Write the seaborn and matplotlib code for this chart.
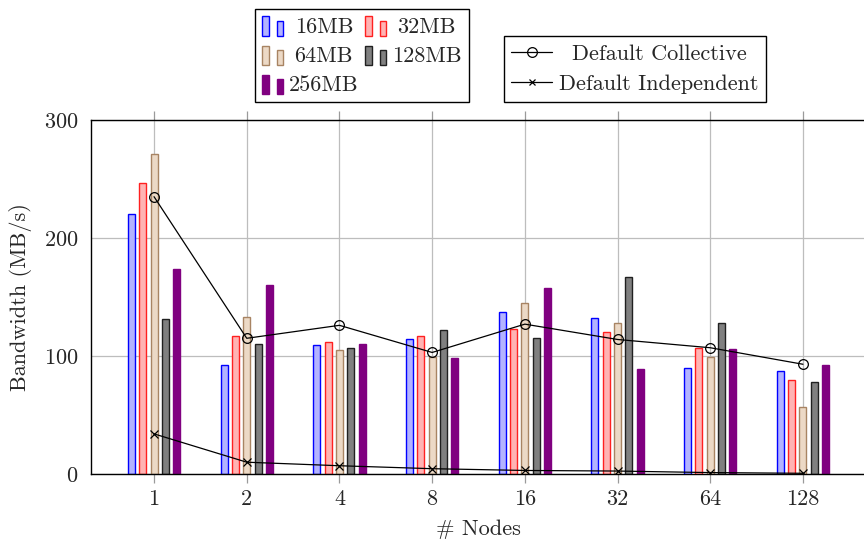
import matplotlib
matplotlib.use("Agg")
import matplotlib.pyplot as plt
import matplotlib.patches as mpatches
from matplotlib.lines import Line2D
from matplotlib.legend_handler import HandlerBase
import pandas as pd
import seaborn as sns

# Bandwidth (MB/s) per node count and transfer size
nodes = ["1", "2", "4", "8", "16", "32", "64", "128"]
sizes = ["16MB", "32MB", "64MB", "128MB", "256MB"]
bw_16mb = [220, 92, 109, 114, 137, 132, 90, 87]
bw_32mb = [247, 117, 112, 117, 123, 120, 107, 80]
bw_64mb = [271, 133, 105, 99, 145, 128, 99, 57]
bw_128mb = [131, 110, 107, 122, 115, 167, 128, 78]
bw_256mb = [174, 160, 110, 98, 158, 89, 106, 92]
default_collective = [235, 115, 126, 103, 127, 114, 107, 93]
default_independent = [34, 10, 7, 4.5, 3, 2.5, 1.2, 0.6]

fills = ["#b3b3ff", "#ffb3b3", "#ecd9c6", "#808080", "#800080"]
edges = ["#0000ff", "#ff2020", "#a88463", "#202020", "#800080"]

FS = 16

sns.set_theme(style="white")
plt.rcParams.update({
    "font.family": ["cmr10", "DejaVu Serif"],
    "mathtext.fontset": "cm",
    "axes.formatter.use_mathtext": True,
    "font.size": FS,
})

rows = []
for size, vals in zip(sizes, [bw_16mb, bw_32mb, bw_64mb, bw_128mb, bw_256mb]):
    for n, v in zip(nodes, vals):
        rows.append({"nodes": n, "size": size, "bw": v})
df = pd.DataFrame(rows)

fig = plt.figure(figsize=(8.64, 5.42), dpi=100)
ax = fig.add_axes([91 / 864, 1 - 474 / 542, 775 / 864, 354 / 542])

sns.barplot(data=df, x="nodes", y="bw", hue="size", order=nodes,
            hue_order=sizes, width=0.61, gap=0.38, errorbar=None,
            palette=fills, legend=False, ax=ax, linewidth=1.0)
for cont, fc, ec in zip(ax.containers, fills, edges):
    for bar in cont:
        bar.set_facecolor(fc)
        bar.set_edgecolor(ec)
        bar.set_linewidth(1.0)

sns.pointplot(x=nodes, y=default_collective, order=nodes, color="black",
              marker="o", markersize=7, markerfacecolor="none",
              markeredgewidth=0.9, linewidth=0.9, errorbar=None, ax=ax)
sns.pointplot(x=nodes, y=default_independent, order=nodes, color="black",
              marker="x", markersize=6, markeredgewidth=0.9,
              linewidth=0.9, errorbar=None, ax=ax)

ax.set_xlim(-0.68, 7.68)
ax.set_ylim(0, 300)
ax.set_yticks([0, 100, 200, 300])
ax.set_axisbelow(True)
ax.grid(True, color="#bdbdbd", linewidth=0.9)
ax.tick_params(axis="x", direction="out", length=6.5, width=0.9,
               color="#9a9a9a", top=True, bottom=True, labeltop=False,
               pad=5, labelsize=FS)
ax.tick_params(axis="y", length=0, pad=9, labelsize=FS)
for side in ["top", "left", "bottom"]:
    ax.spines[side].set_color("black")
    ax.spines[side].set_linewidth(1.0)
ax.spines["right"].set_visible(False)
ax.set_xlabel("# Nodes", fontsize=FS, labelpad=7)
ax.set_ylabel("Bandwidth (MB/s)", fontsize=FS, labelpad=9)


class TwoBarHandler(HandlerBase):
    """Legend key drawn as a pair of small bars, the second one shorter."""

    def create_artists(self, legend, orig_handle, xdescent, ydescent,
                       width, height, fontsize, trans):
        fc = orig_handle.get_facecolor()
        ec = orig_handle.get_edgecolor()
        bw = width * 0.32
        x0 = -xdescent
        y0 = -ydescent - height * 0.15
        r1 = mpatches.Rectangle((x0, y0), bw, height * 1.15, facecolor=fc,
                                edgecolor=ec, linewidth=1.0, transform=trans)
        r2 = mpatches.Rectangle((x0 + width - bw, y0), bw, height * 0.9,
                                facecolor=fc, edgecolor=ec, linewidth=1.0,
                                transform=trans)
        return [r1, r2]


def center_legend_cells(leg, renderer):
    """Center each label within its column, keeping the keys left-aligned."""
    base = leg.handletextpad * leg._fontsize
    px_per_pt = fig.dpi / 72.0
    for col in leg._legend_handle_box.get_children():
        items = col.get_children()
        widths = [item.get_children()[1].get_window_extent(renderer).width
                  for item in items]
        wmax = max(widths)
        for item, w in zip(items, widths):
            item.sep = base + (wmax - w) / 2.0 / px_per_pt


bar_handles = [mpatches.Patch(facecolor=f, edgecolor=e) for f, e in zip(fills, edges)]
order = [0, 2, 4, 1, 3]
leg1 = ax.legend([bar_handles[i] for i in order], [sizes[i] for i in order],
                 ncol=2, loc="lower center",
                 bbox_to_anchor=(362 / 864, 1 - 102 / 542),
                 bbox_transform=fig.transFigure, borderaxespad=0,
                 handler_map={mpatches.Patch: TwoBarHandler()},
                 handlelength=0.95, handleheight=0.8, handletextpad=0.25,
                 columnspacing=0.3, labelspacing=0.4, borderpad=0.32,
                 frameon=True, fancybox=False, edgecolor="black",
                 framealpha=1, fontsize=FS)
leg1.get_frame().set_linewidth(1.0)
ax.add_artist(leg1)

line_handles = [
    Line2D([], [], color="black", linewidth=0.9, marker="o", markersize=7,
           markerfacecolor="none", markeredgewidth=0.9),
    Line2D([], [], color="black", linewidth=0.9, marker="x", markersize=5,
           markeredgewidth=0.9),
]
leg2 = ax.legend(line_handles, ["Default Collective", "Default Independent"],
                 loc="lower center", bbox_to_anchor=(635 / 864, 1 - 102 / 542),
                 bbox_transform=fig.transFigure, borderaxespad=0,
                 handlelength=1.85, handletextpad=0.3, labelspacing=0.5,
                 borderpad=0.35, frameon=True, fancybox=False,
                 edgecolor="black", framealpha=1, fontsize=FS)
leg2.get_frame().set_linewidth(1.0)

fig.canvas.draw()
renderer = fig.canvas.get_renderer()
center_legend_cells(leg1, renderer)
center_legend_cells(leg2, renderer)

fig.savefig("out.png", dpi=100)
